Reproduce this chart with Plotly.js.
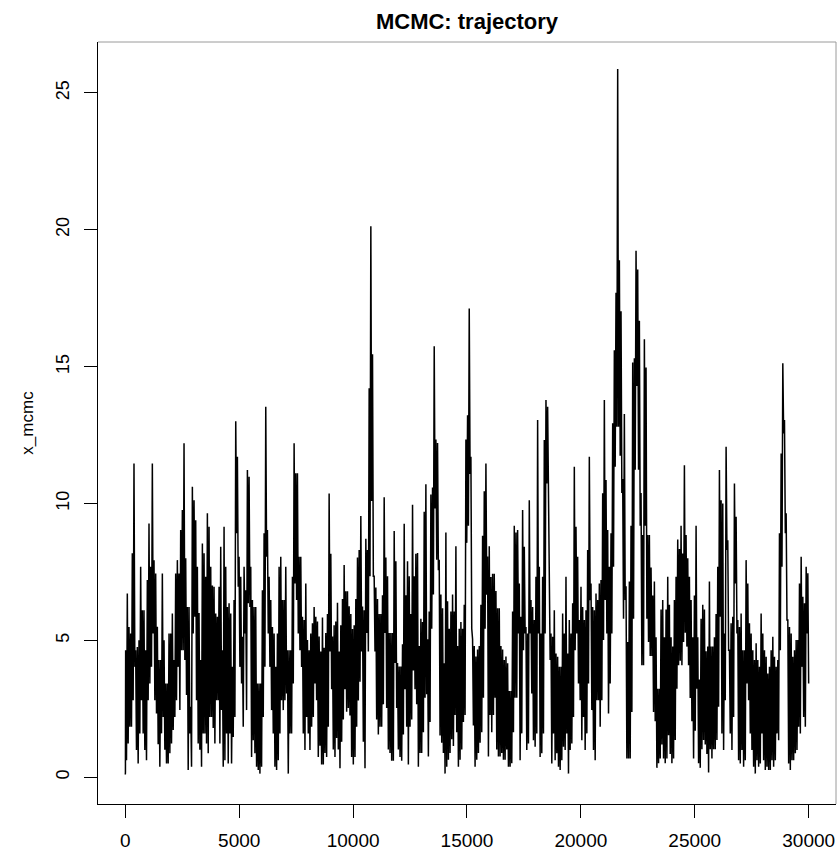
<!DOCTYPE html>
<html><head><meta charset="utf-8">
<script src="https://cdn.plot.ly/plotly-3.0.1.min.js"></script>
<style>html,body{margin:0;padding:0;background:#fff}</style>
</head><body><div id="chart" style="width:837px;height:854px"></div>
<script>
// Thinned MCMC trajectory: for each thin column, the high then the low value.
const chainStart = [0.10, 0.18];
const seg1 = [4.64,0.62, 6.71,1.23, 5.49,1.84, 5.25,1.84, 8.18,2.81, 11.46,4.03, 4.64,0.99, 4.76,0.50, 5.0,1.6, 7.69,2.81,
  6.1,1.6, 6.1,0.99, 4.64,0.62, 7.2,2.81, 9.27,3.42, 7.69,4.03, 11.46,5.25, 7.93,2.81, 7.44,2.33, 5.5,1.2,
  4.28,0.38, 4.28,1.6, 7.44,2.2, 5.0,1.0, 3.42,0.5, 3.42,0.5, 5.25,0.87, 5.25,1.23, 5.98,1.72, 4.28,2.2,
  7.44,2.81, 7.93,4.03, 7.44,2.45, 9.03,4.64, 9.76,4.64, 12.2,4.28, 8.0,3.0, 6.22,0.26, 6.22,1.6, 2.57,0.38,
  10.61,5.25, 10.12,5.86, 9.39,2.81, 7.69,1.23, 6.0,1.0, 4.28,0.38, 8.54,1.6, 8.18,1.6, 7.32,1.23, 9.64,0.87,
  9.15,2.2, 7.69,2.2, 7.0,1.8, 6.96,1.23, 5.98,2.81];
const seg2 = [5.86,2.81, 6.96,1.23, 8.42,2.45, 4.64,0.38, 9.15,0.62, 7.69,1.6, 6.22,0.5, 6.35,1.6, 5.98,0.5, 4.03,1.47,
  6.47,2.2, 13.0,8.91, 11.71,6.96, 8.05,4.03, 7.32,3.42, 5.13,1.84, 7.69,5.25, 6.83,2.45, 11.22,6.35, 10.98,6.22,
  7.69,0.74, 6.47,1.35, 6.22,0.87, 6.22,0.38, 3.42,0.26, 3.42,0.13, 3.42,0.38, 6.83,2.2, 8.91,4.03, 13.53,8.05,
  9.03,5.25, 7.32,4.03, 6.47,2.45, 5.49,1.6, 5.25,0.38, 4.03,0.26, 5.25,0.62, 7.69,1.6, 8.05,2.81, 6.47,2.45,
  6.47,2.81, 7.69,3.06, 4.64,0.13, 4.64,1.6, 4.64,1.6, 7.32,3.42, 12.2,7.08, 11.1,6.47, 11.1,5.25, 8.05,4.64,
  8.05,4.03, 5.86,1.6, 5.74,0.99, 7.08,2.2, 5.01,1.6, 4.64,0.99, 5.25,1.84, 5.62,2.2, 6.22,3.42, 5.86,2.81];
const seg3 = [5.69,0.74, 5.14,1.15, 4.59,0.46, 5.83,0.46, 4.73,0.88, 5.27,0.74, 5.96,1.84, 10.36,4.59, 8.16,3.21, 5.14,1.01,
  5.55,0.74, 5.69,1.43, 6.37,1.01, 4.59,0.33, 5.55,1.29, 6.51,2.11, 7.75,3.21, 6.79,2.39, 6.79,2.53, 6.24,2.25,
  5.96,0.74, 5.41,0.46, 5.55,0.74, 6.51,1.84, 8.03,2.8, 8.3,3.49, 9.54,4.59, 6.24,1.29, 6.1,0.33, 8.71,5.27,
  8.3,4.59, 14.21,7.34, 20.13,10.09, 15.45,7.34, 7.34,4.59, 6.93,2.11, 6.51,1.56, 5.96,1.84, 5.96,1.84, 6.65,2.66,
  10.23,5.27, 8.03,2.53, 7.34,1.01, 5.27,0.88, 5.27,0.6, 5.27,0.6, 8.99,4.17, 7.89,2.53, 4.17,1.01, 4.04,0.74,
  4.04,0.6, 4.86,1.56, 9.26,3.21, 6.65,1.84, 7.89,0.46, 7.34,1.84, 5.96,2.11, 9.95,3.9, 7.34,3.21, 8.16,2.66];
const seg4 = [8.19,0.38, 4.79,0.88, 5.79,0.88, 5.67,1.64, 9.7,2.9, 10.7,3.03, 5.04,0.76, 6.05,2.02, 10.33,5.42, 10.58,6.67,
  15.74,9.82, 12.34,7.94, 12.21,7.56, 7.94,1.52, 6.67,1.26, 6.17,0.88, 4.16,0.13, 8.94,0.38, 6.43,0.64, 5.42,0.88,
  6.05,1.39, 6.67,1.14, 6.05,2.27, 8.44,1.64, 4.79,0.38, 5.42,0.64, 5.67,1.01, 5.42,2.02, 6.3,2.27, 12.34,8.56,
  13.22,9.19, 17.12,11.08, 11.71,5.42, 5.04,1.89, 4.79,0.38, 4.41,0.64, 4.66,0.88, 4.79,1.26, 6.3,1.64, 8.82,2.9,
  10.45,5.42, 11.46,6.67, 8.06,0.76, 8.44,2.27, 7.31,1.64, 7.43,2.27, 7.43,2.9, 6.8,1.01, 6.17,0.76, 6.17,0.76,
  4.79,0.88, 4.66,0.64, 4.28,0.64, 4.41,1.01, 4.16,0.38, 3.15,0.38, 3.15,0.51, 6.05,1.64, 9.19,2.9, 8.94,2.9];
const seg5 = [9.03,5.25, 7.08,0.62, 5.86,1.6, 9.76,4.64, 8.42,5.25, 5.49,0.99, 5.25,1.23, 10.12,5.25, 6.47,3.06, 6.22,1.35,
  5.74,1.11, 7.32,1.6, 13.05,5.25, 7.69,0.74, 5.25,0.87, 7.32,1.6, 12.32,5.25, 13.78,10.73, 13.53,10.12, 5.25,4.28,
  5.25,0.5, 5.13,1.6, 6.1,0.62, 4.52,0.87, 4.4,0.38, 4.03,0.26, 4.03,0.62, 5.98,1.11, 5.25,0.99, 7.32,1.6,
  4.52,0.13, 5.74,0.99, 5.25,1.23, 6.35,2.2, 11.34,4.64, 9.15,5.25, 8.05,3.42, 5.74,2.81, 6.96,1.35, 6.22,2.2,
  5.74,0.99, 6.1,1.6, 8.3,3.42, 11.71,6.47, 7.08,2.45, 6.22,0.99, 6.1,0.62, 6.71,2.81, 6.47,2.81, 7.08,1.84,
  7.2,2.81, 10.37,5.01, 13.78,6.47, 10.86,5.25, 9.03,2.33, 7.69,3.42, 8.91,5.25, 12.93,7.69, 15.6,11.34, 17.7,12.8];
const seg6 = [25.87,12.8, 18.89,11.74, 17.02,10.38, 10.89,5.79, 13.27,6.47, 6.98,0.68, 4.94,0.68, 7.15,0.68, 9.19,2.38, 15.15,5.79,
  15.31,11.23, 19.23,14.29, 18.55,11.23, 16.68,9.19, 10.38,4.09, 8.85,4.09, 16.0,9.19, 14.97,5.79, 8.85,4.94, 8.85,4.43,
  7.66,4.43, 6.64,2.38, 7.15,2.04, 5.11,0.34, 3.23,0.51, 3.23,0.68, 6.13,1.19, 6.47,0.68, 5.11,0.51, 6.13,0.68,
  7.32,1.53, 6.3,0.85, 5.11,0.51, 4.77,0.68, 6.47,1.36, 7.32,3.23, 8.68,4.09, 8.34,4.25, 9.19,4.09, 8.17,4.94,
  11.4,5.28, 8.85,4.77, 8.0,4.09, 7.32,2.89, 6.47,2.04, 5.11,0.68, 6.64,1.7, 9.19,3.23, 5.11,0.51, 3.57,0.34,
  5.79,1.02, 6.3,1.36, 6.13,1.19, 4.6,0.85, 4.77,0.17, 7.15,1.02, 4.77,0.68, 4.77,1.02, 5.11,1.02, 5.96,1.36];
const seg7 = [7.69,2.57, 11.22,5.86, 10.12,1.6, 10.0,0.99, 5.25,2.81, 12.07,8.3, 8.66,4.64, 4.64,1.6, 5.62,0.99, 5.86,2.2,
  10.73,7.08, 9.51,5.25, 5.74,0.62, 5.49,0.5, 5.98,0.99, 4.64,0.38, 4.64,0.62, 7.93,3.42, 7.08,2.81, 5.62,1.6,
  5.25,0.99, 4.64,0.38, 4.28,0.13, 4.89,0.62, 4.28,0.38, 4.03,0.5, 5.98,1.6, 5.25,0.62, 4.64,0.26, 4.4,0.38,
  3.79,0.26, 4.03,0.26, 4.64,0.62, 5.13,0.38, 4.4,0.62, 4.03,1.6, 4.28,1.35, 8.91,4.64, 11.83,7.69, 15.12,12.56,
  13.05,8.91, 9.64,5.74, 5.74,0.5, 5.49,0.26, 5.25,0.62, 4.4,0.62, 4.64,0.87, 5.01,0.99, 5.01,1.84, 7.08,1.6,
  8.05,4.03, 6.59,2.2, 6.35,1.84, 7.69,5.25, 7.45,3.42];

const xTickVals = [0, 5000, 10000, 15000, 20000, 25000, 30000];
const xTickText = ["0", "5000", "10000", "15000", "20000", "25000", "30000"];
const yTickVals = [0, 5, 10, 15, 20, 25];
const yTickText = ["0", "5", "10", "15", "20", "25"];
const firstIter = 15, lastIter = 30000;

const thinned = [].concat(seg1, seg2, seg3, seg4, seg5, seg6, seg7);
const values = chainStart.concat(thinned);
const half = (lastIter - firstIter) / (thinned.length - 1);
const iterations = values.map((v, i) => i < chainStart.length ? i * 5 : firstIter + (i - chainStart.length) * half);

const font = 'Liberation Sans, Arial, Helvetica, sans-serif';
const trace = {
  type: 'scatter', mode: 'lines', x: iterations, y: values,
  line: {color: '#000', width: 1.5}, hoverinfo: 'skip', showlegend: false
};
const layout = {
  width: 837, height: 854,
  margin: {l: 98, r: 1, t: 42, b: 50, pad: 0},
  paper_bgcolor: '#fff', plot_bgcolor: '#fff', showlegend: false,
  font: {family: font, color: '#000'},
  title: {text: '<b>MCMC: trajectory</b>', font: {family: font, size: 22, color: '#000'},
          x: 0.5, xref: 'paper', xanchor: 'center', y: 1 - 21/854, yref: 'container', yanchor: 'middle'},
  xaxis: {range: [-1199, 31200], tickmode: 'array', tickvals: xTickVals, ticktext: xTickText,
          ticks: 'outside', ticklen: 13, tickwidth: 1, tickcolor: '#000', ticklabelstandoff: 6,
          showline: true, linecolor: '#000', linewidth: 1, showgrid: false, zeroline: false,
          tickfont: {family: font, size: 19, color: '#000'}, fixedrange: true, automargin: false},
  yaxis: {range: [-0.98, 26.86], tickmode: 'array', tickvals: yTickVals, ticktext: yTickText, tickangle: -90,
          ticks: 'outside', ticklen: 13, tickwidth: 1, tickcolor: '#000', ticklabelstandoff: 8,
          showline: true, linecolor: '#000', linewidth: 1, showgrid: false, zeroline: false,
          tickfont: {family: font, size: 18, color: '#000'}, fixedrange: true, automargin: false,
          title: {text: 'x_mcmc', font: {family: font, size: 17, color: '#000'}, standoff: 14}},
  shapes: [
    {type: 'line', xref: 'paper', yref: 'paper', x0: 0, x1: 1, y0: 1, y1: 1, line: {color: '#9a9a9a', width: 1}},
    {type: 'line', xref: 'paper', yref: 'paper', x0: 1, x1: 1, y0: 0, y1: 1, line: {color: '#9a9a9a', width: 1}}
  ]
};
Plotly.newPlot('chart', [trace], layout, {displayModeBar: false, staticPlot: true});
</script>
</body></html>
